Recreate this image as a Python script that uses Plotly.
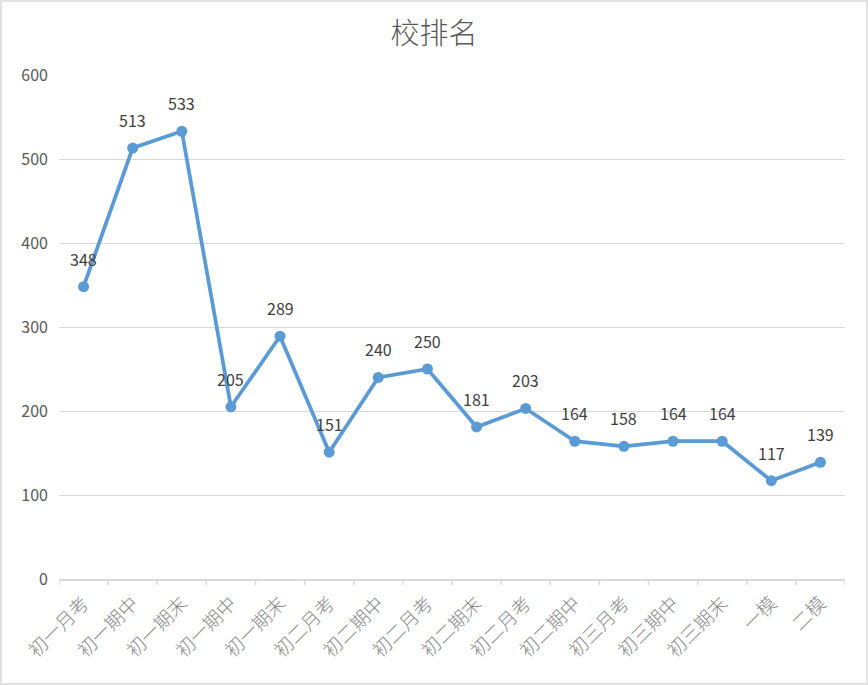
import plotly.graph_objects as go

categories = ["初一月考", "初一期中", "初一期末", "初一期中", "初一期末", "初二月考", "初二期中", "初二月考",
              "初二期末", "初二月考", "初二期中", "初三月考", "初三期中", "初三期末", "一模", "二模"]
ranks = [348, 513, 533, 205, 289, 151, 240, 250, 181, 203, 164, 158, 164, 164, 117, 139]
y_ticks = [0, 100, 200, 300, 400, 500, 600]

x_idx = list(range(len(categories)))

W, H = 868, 685
ml, mr, mt, mb = 59, 23, 75, 106
pw, ph = W - ml - mr, H - mt - mb

fig = go.Figure()
fig.add_trace(go.Scatter(
    x=x_idx, y=ranks, mode="lines+markers",
    line=dict(color="#5B9BD5", width=3.75),
    marker=dict(color="#5B9BD5", size=11),
    cliponaxis=False, hoverinfo="skip",
))

annotations = [dict(x=xi, y=v, xref="x", yref="y", text=str(v), showarrow=False,
                    yshift=28, font=dict(family="Noto Sans CJK SC", size=16, color="#404040"))
               for xi, v in zip(x_idx, ranks)]

fig.update_layout(
    width=W, height=H,
    margin=dict(l=ml, r=mr, t=mt, b=mb),
    paper_bgcolor="white", plot_bgcolor="white",
    showlegend=False,
    annotations=annotations,
    title=dict(text="校排名", x=0.5, xanchor="center", y=1 - 34 / H, yanchor="middle",
               font=dict(family="Noto Sans CJK SC", size=29, color="#595959", weight=300)),
    font=dict(family="Noto Sans CJK SC"),
    xaxis=dict(
        range=[-0.5, len(categories) - 0.5],
        tickmode="array", tickvals=x_idx, ticktext=categories,
        tickangle=-45, showgrid=False, zeroline=False,
        showline=True, linecolor="#d9d9d9", linewidth=1.5,
        tickfont=dict(family="Noto Sans CJK SC", size=19, color="#8c8c8c", weight=300),
        ticks="", ticklabelstandoff=4,
    ),
    yaxis=dict(
        range=[0, 600], tickvals=y_ticks, showgrid=True, gridcolor="#d9d9d9", gridwidth=1,
        zeroline=False, showline=False, ticks="",
        tickfont=dict(family="Noto Sans CJK SC", size=16, color="#595959"),
        ticklabelstandoff=10,
    ),
)

shapes = []
for i in range(len(categories) + 1):
    xb = i - 0.5
    shapes.append(dict(type="line", xref="x", yref="paper", x0=xb, x1=xb, y0=0, y1=-6 / ph,
                       line=dict(color="#d9d9d9", width=1.5)))
shapes.append(dict(type="rect", xref="paper", yref="paper",
                   x0=(-ml + 1) / pw, x1=(pw + mr - 1) / pw,
                   y0=(-mb + 1) / ph, y1=(ph + mt - 1) / ph,
                   line=dict(color="#d9d9d9", width=1.5)))
fig.update_layout(shapes=shapes)

fig.write_html("out.html")
